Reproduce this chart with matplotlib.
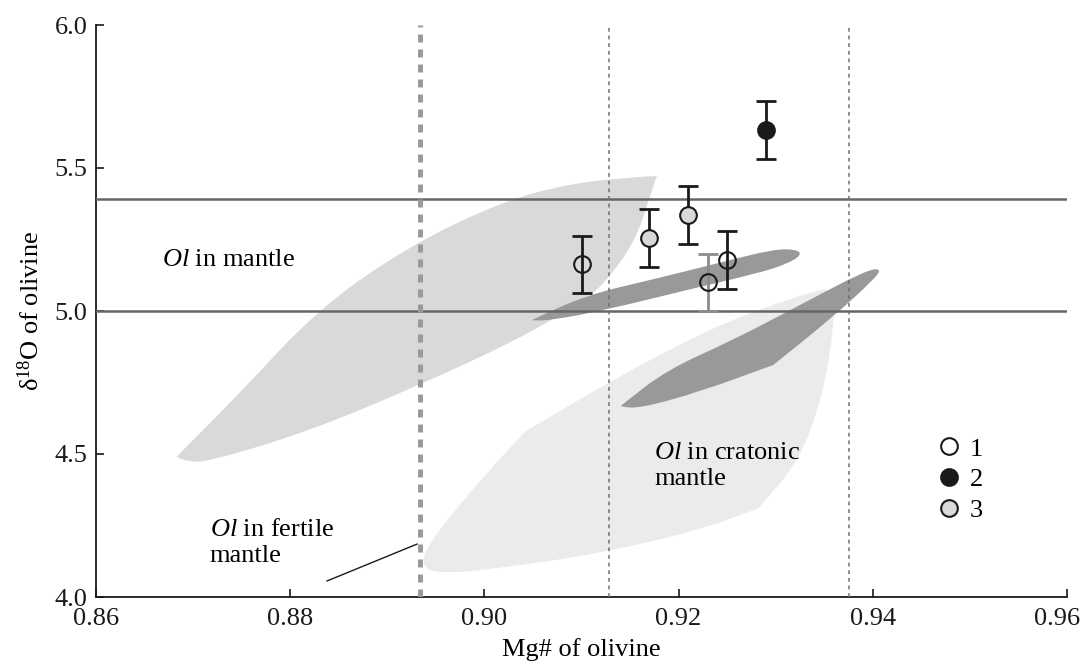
import matplotlib
matplotlib.use("Agg")
import matplotlib.pyplot as plt
from matplotlib.lines import Line2D
from matplotlib.path import Path
from matplotlib.patches import PathPatch
from matplotlib.transforms import ScaledTranslation

plt.rcParams['font.family'] = ['Liberation Serif', 'DejaVu Serif']
plt.rcParams['mathtext.fontset'] = 'custom'
plt.rcParams['mathtext.rm'] = 'Liberation Serif'
plt.rcParams['mathtext.it'] = 'Liberation Serif:italic'

# ---------------- data ----------------
# samples: Mg#, d18O, error, group (1 open, 2 black, 3 grey)
pt_mg = [0.910, 0.917, 0.921, 0.923, 0.925, 0.929]
pt_d18o = [5.163, 5.255, 5.336, 5.101, 5.178, 5.633]
pt_err = [0.100, 0.100, 0.100, 0.100, 0.100, 0.100]
pt_group = [1, 3, 3, 1, 1, 2]
pt_errcolor = ['#1a1a1a', '#1a1a1a', '#1a1a1a', '#8c8c8c', '#1a1a1a', '#1a1a1a']

group_labels = ['1', '2', '3']
group_face = {1: 'none', 2: '#1a1a1a', 3: '#d9d9d9'}

# reference field outlines (Mg#, d18O); repeated vertices mark sharp corners
mantle_field_x = [0.86845, 0.87483, 0.88276, 0.89203, 0.90192, 0.90912, 0.91550, 0.91777,
                  0.91777, 0.91736, 0.91572, 0.91324, 0.91088, 0.90397, 0.89337, 0.88173,
                  0.87143, 0.86950, 0.86830]
mantle_field_y = [4.4965, 4.7133, 5.0035, 5.2238, 5.3846, 5.4476, 5.4680, 5.4720,
                  5.4720, 5.4336, 5.2587, 5.1329, 5.0490, 4.9091, 4.7413, 4.5769,
                  4.4720, 4.4740, 4.4880]

cratonic_field_x = [0.90418, 0.90418, 0.91260, 0.92221, 0.92907, 0.93400, 0.93593, 0.93600,
                    0.93490, 0.93250, 0.92821, 0.92821, 0.92221, 0.91191, 0.90161, 0.89500,
                    0.89337, 0.89474, 0.89989]
cratonic_field_y = [4.5780, 4.5780, 4.7472, 4.9220, 5.0150, 5.0700, 5.0794, 4.9451,
                    4.7122, 4.4790, 4.3101, 4.3101, 4.2343, 4.1528, 4.1003, 4.0800,
                    4.1178, 4.2108, 4.4206]

band1_x = [0.90504, 0.91053, 0.91739, 0.92426, 0.92975, 0.93216, 0.93268, 0.93113,
           0.92838, 0.92083, 0.91276, 0.90710, 0.90480]
band1_y = [4.9710, 5.0559, 5.1108, 5.1689, 5.2157, 5.2157, 5.1958, 5.1643,
           5.1339, 5.0734, 5.0059, 4.9685, 4.9661]

band2_x = [0.91414, 0.91877, 0.92563, 0.93250, 0.93937, 0.94092, 0.94005, 0.93593,
           0.92975, 0.92975, 0.92220, 0.91602, 0.91400]
band2_y = [4.6713, 4.7937, 4.8986, 5.0210, 5.1434, 5.1480, 5.1084, 4.9801,
           4.8112, 4.8112, 4.7178, 4.6598, 4.6654]

mantle_range = [5.00, 5.39]          # horizontal lines
fertile_mg = 0.8934                   # thick dashed line
cratonic_mg = [0.9128, 0.9376]        # dotted lines

leader_x = [0.88379, 0.89306]
leader_y = [4.056, 4.185]

xticks = [0.86, 0.88, 0.90, 0.92, 0.94, 0.96]
yticks = [4.0, 4.5, 5.0, 5.5, 6.0]


def smooth_field(xs, ys):
    """Closed quadratic-Bezier path using the outline vertices as control points."""
    pts = list(zip(xs, ys))
    n = len(pts)
    mid = lambda a, b: ((a[0] + b[0]) / 2, (a[1] + b[1]) / 2)
    verts = [mid(pts[-1], pts[0])]
    codes = [Path.MOVETO]
    for i in range(n):
        verts += [pts[i], mid(pts[i], pts[(i + 1) % n])]
        codes += [Path.CURVE3, Path.CURVE3]
    verts.append(verts[0])
    codes.append(Path.CLOSEPOLY)
    return Path(verts, codes)


# ---------------- figure ----------------
fig = plt.figure(figsize=(10.84, 6.68), dpi=100)
ax = fig.add_axes([96 / 1084, 1 - 597 / 668, (1067 - 96) / 1084, (597 - 25) / 668])
ax.set_xlim(0.86, 0.96)
ax.set_ylim(4.0, 6.0)

for fx, fy, col, z in [(mantle_field_x, mantle_field_y, '#d9d9d9', 1),
                       (cratonic_field_x, cratonic_field_y, '#ebebeb', 1),
                       (band1_x, band1_y, '#999999', 2),
                       (band2_x, band2_y, '#999999', 2)]:
    ax.add_patch(PathPatch(smooth_field(fx, fy), facecolor=col, lw=0, zorder=z))

for v in mantle_range:
    ax.axhline(v, color='#666666', lw=1.8, zorder=3)

ax.axvline(fertile_mg, color='#9a9a9a', lw=3.6, linestyle=(0, (1.6, 1.4)), zorder=3)
for v in cratonic_mg:
    ax.axvline(v, color='#707070', lw=1.1, linestyle=(0, (2.5, 2.5)), zorder=3)

for x, y, e, g, ec in zip(pt_mg, pt_d18o, pt_err, pt_group, pt_errcolor):
    ax.errorbar(x, y, yerr=e, fmt='none', ecolor=ec, elinewidth=2.0, capsize=7,
                capthick=2.0, zorder=4)
    ax.plot(x, y, 'o', ms=12, mfc=group_face[g], mec='#1a1a1a', mew=1.5, zorder=5)

ax.plot(leader_x, leader_y, color='#1a1a1a', lw=1.0, zorder=4)

fs = 19
ax.text(0.8668, 5.178, r'$\it{Ol}$ in mantle', fontsize=fs, ha='left', va='center', zorder=6)
ax.text(0.91747, 4.458, r'$\it{Ol}$ in cratonic' + '\nmantle', fontsize=fs, ha='left',
        va='center', linespacing=1.25, zorder=6)
ax.text(0.8717, 4.189, r'$\it{Ol}$ in fertile' + '\nmantle', fontsize=fs, ha='left',
        va='center', linespacing=1.25, zorder=6)

handles = [Line2D([], [], ls='none', marker='o', ms=12, mfc=group_face[g], mec='#1a1a1a',
                  mew=1.5) for g in (1, 2, 3)]
ax.legend(handles, group_labels, loc='center left', bbox_to_anchor=(0.84, 0.205),
          frameon=False, fontsize=fs, handlelength=1.0, handletextpad=0.3,
          labelspacing=0.28, borderpad=0.4)

ax.spines['top'].set_visible(False)
ax.spines['right'].set_visible(False)
for s in ('left', 'bottom'):
    ax.spines[s].set_linewidth(1.3)
    ax.spines[s].set_color('#1a1a1a')

ax.set_xticks(xticks)
ax.set_yticks(yticks)
ax.set_xticklabels([f'{t:.2f}' for t in xticks])
ax.set_yticklabels([f'{t:.1f}' for t in yticks])
ax.tick_params(direction='in', length=6, width=1.2, labelsize=fs, colors='#1a1a1a')
ax.tick_params(axis='x', pad=8)
ax.tick_params(axis='y', pad=6)

# keep the last x tick label inside the figure, as in the reference
last = ax.get_xticklabels()[-1]
last.set_transform(last.get_transform() + ScaledTranslation(-0.10, 0, fig.dpi_scale_trans))

ax.set_xlabel('Mg# of olivine', fontsize=fs, labelpad=6)
ax.set_ylabel(r'δ$^{\mathregular{18}}$O of olivine', fontsize=fs, labelpad=8)

fig.savefig('out.png', dpi=100)
